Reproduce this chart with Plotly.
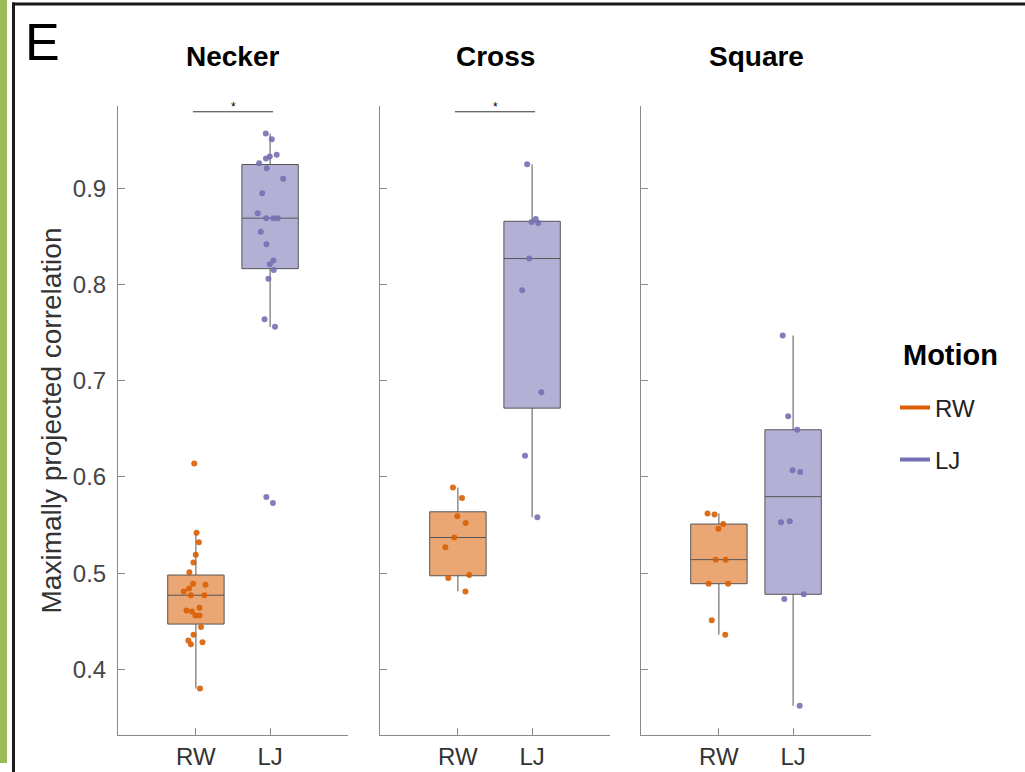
import plotly.graph_objects as go

# ---- data -------------------------------------------------------------
motions = ["RW", "LJ"]
stimuli = ["Necker", "Cross", "Square"]

necker_rw = [0.614, 0.542, 0.532, 0.519, 0.511, 0.501, 0.489, 0.488, 0.484, 0.481, 0.477, 0.477,
             0.464, 0.461, 0.460, 0.456, 0.456, 0.444, 0.436, 0.430, 0.428, 0.426, 0.380]
necker_lj = [0.957, 0.951, 0.935, 0.933, 0.931, 0.926, 0.921, 0.910, 0.895, 0.874, 0.869, 0.869,
             0.869, 0.855, 0.842, 0.825, 0.821, 0.815, 0.806, 0.764, 0.756, 0.579, 0.573]
cross_rw = [0.589, 0.578, 0.559, 0.552, 0.537, 0.527, 0.498, 0.495, 0.481]
cross_lj = [0.925, 0.868, 0.865, 0.864, 0.827, 0.794, 0.688, 0.622, 0.558]
square_rw = [0.562, 0.561, 0.551, 0.546, 0.514, 0.514, 0.489, 0.489, 0.451, 0.436]
square_lj = [0.747, 0.663, 0.649, 0.607, 0.605, 0.554, 0.553, 0.478, 0.473, 0.362]

# significance marker per stimulus (True = RW vs LJ comparison flagged)
significant = [True, True, False]

y_ticks = [0.4, 0.5, 0.6, 0.7, 0.8, 0.9]
y_range = [0.3317, 0.9856]
sig_level = 0.9796

# ---- styling ----------------------------------------------------------
W, H = 1025, 772
FONT = "Liberation Sans, Arial, sans-serif"
point_colors = {"RW": "#D95F02", "LJ": "#7570B3"}
fill_colors = {"RW": "rgba(217,95,2,0.55)", "LJ": "rgba(117,112,179,0.55)"}
axis_grey = "#8a8a8a"


def px_x(v):
    return v / W


def px_y(v):
    return 1 - v / H


panel_px = [(118, 348), (380, 610), (641, 871)]
y_dom = [px_y(735), px_y(106)]

series = {
    "Necker": {"RW": necker_rw, "LJ": necker_lj},
    "Cross": {"RW": cross_rw, "LJ": cross_lj},
    "Square": {"RW": square_rw, "LJ": square_lj},
}

fig = go.Figure()
layout_axes = {}
annotations = []
shapes = []

for i, stim in enumerate(stimuli):
    sfx = "" if i == 0 else str(i + 1)
    xa, ya = "x" + sfx, "y" + sfx
    for m in motions:
        vals = series[stim][m]
        fig.add_trace(go.Box(
            x=[m] * len(vals), y=vals, name=m, xaxis=xa, yaxis=ya,
            boxpoints="all", jitter=0.55, pointpos=0, width=0.76,
            whiskerwidth=0, fillcolor=fill_colors[m],
            line=dict(color="#555555", width=1),
            marker=dict(color=point_colors[m], size=6, opacity=0.9),
            showlegend=False, hoverinfo="y",
        ))
    x0, x1 = panel_px[i]
    layout_axes["xaxis" + sfx] = dict(
        domain=[px_x(x0), px_x(x1)], anchor=ya, type="category",
        categoryorder="array", categoryarray=motions, range=[-1.05, 2.05],
        showline=True, linecolor=axis_grey, linewidth=1,
        ticks="inside", ticklen=7, tickcolor=axis_grey,
        tickfont=dict(family=FONT, size=24, color="#333333"),
        showgrid=False, zeroline=False, fixedrange=True,
    )
    layout_axes["yaxis" + sfx] = dict(
        domain=y_dom, anchor=xa, range=y_range, tickvals=y_ticks,
        tickformat=".1f", showticklabels=(i == 0),
        showline=True, linecolor=axis_grey, linewidth=1,
        ticks="inside", ticklen=7, tickcolor=axis_grey,
        tickfont=dict(family=FONT, size=24, color="#454545"),
        ticklabelstandoff=6,
        showgrid=False, zeroline=False, fixedrange=True,
    )
    annotations.append(dict(
        text="<b>%s</b>" % stim, xref="paper", yref="paper",
        x=px_x((x0 + x1) / 2), y=px_y(56), xanchor="center", yanchor="middle",
        showarrow=False, font=dict(family=FONT, size=28, color="black"),
    ))
    if significant[i]:
        shapes.append(dict(type="line", xref=xa, yref=ya, x0=-0.04, x1=1.04,
                           y0=sig_level, y1=sig_level,
                           line=dict(color="#333333", width=1)))
        annotations.append(dict(text="*", xref=xa, yref=ya, x=0.5, y=sig_level,
                                xanchor="center", yanchor="bottom", yshift=-4,
                                showarrow=False,
                                font=dict(family=FONT, size=12, color="black")))

layout_axes["yaxis"]["title"] = dict(
    text="Maximally projected correlation", standoff=3,
    font=dict(family=FONT, size=28, color="#333333"))

# legend entries (line keys) in two separately placed legends
for m, leg in zip(motions, ["legend", "legend2"]):
    fig.add_trace(go.Scatter(
        x=[None], y=[None], mode="lines", name=m, legend=leg,
        line=dict(color=point_colors[m], width=4), hoverinfo="skip",
    ))

legend_common = dict(xanchor="left", yanchor="middle", bgcolor="rgba(0,0,0,0)",
                     font=dict(family=FONT, size=24, color="#222222"),
                     borderwidth=0)

annotations.append(dict(text="<b>Motion</b>", xref="paper", yref="paper",
                        x=px_x(901), y=px_y(355), xanchor="left", yanchor="middle",
                        showarrow=False,
                        font=dict(family=FONT, size=29, color="black")))
annotations.append(dict(text="E", xref="paper", yref="paper",
                        x=px_x(23), y=px_y(42), xanchor="left", yanchor="middle",
                        showarrow=False,
                        font=dict(family=FONT, size=52, color="black")))

# frame: green side band, black left rule and top rule
shapes += [
    dict(type="rect", xref="paper", yref="paper", x0=0, x1=px_x(7),
         y0=px_y(763), y1=1, fillcolor="#9BBB59", line=dict(width=0), layer="below"),
    dict(type="rect", xref="paper", yref="paper", x0=px_x(12), x1=px_x(15),
         y0=0, y1=px_y(2.5), fillcolor="#1a1a1a", line=dict(width=0)),
    dict(type="rect", xref="paper", yref="paper", x0=px_x(12), x1=1,
         y0=px_y(5.5), y1=px_y(2.5), fillcolor="#1a1a1a", line=dict(width=0)),
]

fig.update_layout(
    width=W, height=H, margin=dict(l=0, r=0, t=0, b=0),
    paper_bgcolor="white", plot_bgcolor="white",
    boxmode="overlay",
    legend=dict(x=px_x(895), y=px_y(408), **legend_common),
    legend2=dict(x=px_x(895), y=px_y(460), **legend_common),
    annotations=annotations, shapes=shapes,
    **layout_axes,
)

fig.write_html("out.html")
